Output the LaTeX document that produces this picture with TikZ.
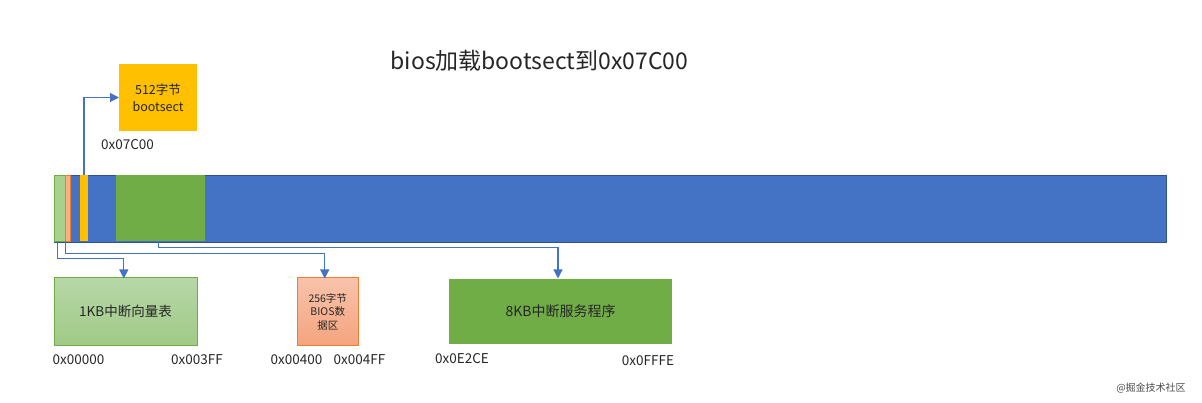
\documentclass[tikz,border=0pt]{standalone}
\usepackage{fontspec}
\setmainfont{Noto Sans CJK SC}
\usetikzlibrary{arrows.meta,calc}
\definecolor{mblue}{HTML}{4472C4}
\definecolor{mbluedk}{HTML}{2F528F}
\definecolor{mgreen}{HTML}{70AD47}
\definecolor{lgreenT}{HTML}{B7D7A8}
\definecolor{lgreenB}{HTML}{A0CA86}
\definecolor{lgreen}{HTML}{A9D18E}
\definecolor{morange}{HTML}{ED7D31}
\definecolor{lorangeT}{HTML}{F8C3AB}
\definecolor{lorangeB}{HTML}{F4A47E}
\definecolor{lorange}{HTML}{F4B183}
\definecolor{myellow}{HTML}{FFC000}
\definecolor{txt}{HTML}{262626}
\begin{document}
\begin{tikzpicture}[x=1pt,y=-1pt,
  seg/.style={rectangle,inner sep=0pt,outer sep=0pt,line width=0.9pt},
  box/.style={rectangle,inner sep=0pt,outer sep=0pt,line width=1pt,text=txt,align=center},
  lbl/.style={inner sep=0pt,text=txt,font=\fontsize{13.5}{15}\selectfont},
  conn/.style={draw=mblue,line width=1.2pt,-{Triangle[width=9pt,length=9pt]}},
  connl/.style={draw=mblue,line width=1.2pt}]
\useasboundingbox (0,0) rectangle (1202,403);
% title
\node[inner sep=0pt,text=txt,font=\fontsize{23}{26}\selectfont] (title) at (539.5,61) {bios加载bootsect到0x07C00};
% memory bar
\node[seg,draw=mbluedk,fill=mblue,minimum width=1112pt,minimum height=67pt,anchor=north west] (bar) at (54,175) {};
\node[seg,draw=mgreen,fill=lgreen,minimum width=11pt,minimum height=66pt,anchor=north west] (ivtseg) at (54,175.5) {};
\node[seg,draw=morange,fill=lorange,minimum width=5.5pt,minimum height=66pt,anchor=north west] (biosseg) at (65.3,175.5) {};
\node[seg,fill=myellow,minimum width=8pt,minimum height=66pt,anchor=north west] (bootseg) at (80,175.5) {};
\node[seg,fill=mgreen,minimum width=89pt,minimum height=66pt,anchor=north west] (isrseg) at (116,175.5) {};
% bootsect box
\node[box,fill=myellow,minimum width=78pt,minimum height=67pt,anchor=north west,font=\fontsize{12.5}{17}\selectfont] (boot) at (119,64) {512字节\\bootsect};
\node[lbl] (l07c) at (127.5,145) {0x07C00};
% lower boxes
\node[box,draw=mgreen,top color=lgreenT,bottom color=lgreenB,minimum width=143pt,minimum height=67pt,anchor=north west,font=\fontsize{13.5}{16}\selectfont] (ivt) at (54,278) {1KB中断向量表};
\node[box,draw=morange,top color=lorangeT,bottom color=lorangeB,minimum width=61.5pt,minimum height=67pt,anchor=north west,font=\fontsize{10.5}{13.5}\selectfont] (bios) at (297,278) {256字节\\BIOS数\\据区};
\node[box,fill=mgreen,minimum width=223pt,minimum height=65pt,anchor=north west,font=\fontsize{14}{16}\selectfont] (isr) at (449,279) {8KB中断服务程序};
% address labels
\node[lbl] (a1) at (78.5,360) {0x00000};
\node[lbl] (a2) at (197,360) {0x003FF};
\node[lbl] (a3) at (296.5,360) {0x00400};
\node[lbl] (a4) at (359.5,360) {0x004FF};
\node[lbl] (a5) at (462,359) {0x0E2CE};
\node[lbl] (a6) at (648,360.5) {0x0FFFE};
% connectors
\draw[conn] (bootseg.north) |- (boot.west);
\coordinate (c1) at ($(ivtseg.south)+(-2.3,0)$);
\coordinate (c2) at ($(biosseg.south)+(-2.4,0)$);
\coordinate (c3) at ($(isrseg.south)+(-2.2,0)$);
\draw[conn] (c1) -- ++(0,17) -| ([xshift=-1.7pt,yshift=-0.5pt]ivt.north);
\draw[conn] (c2) -- ++(0,12) -| ([xshift=-3pt,yshift=-0.5pt]bios.north);
\draw[conn] (c3) -- ++(0,6) -| ([xshift=-2.5pt,yshift=0.5pt]isr.north);
% watermark
\node[inner sep=0pt,text=black!70,font=\fontsize{10}{12}\selectfont] (wm) at (1151,388) {@掘金技术社区};
\end{tikzpicture}
\end{document}
